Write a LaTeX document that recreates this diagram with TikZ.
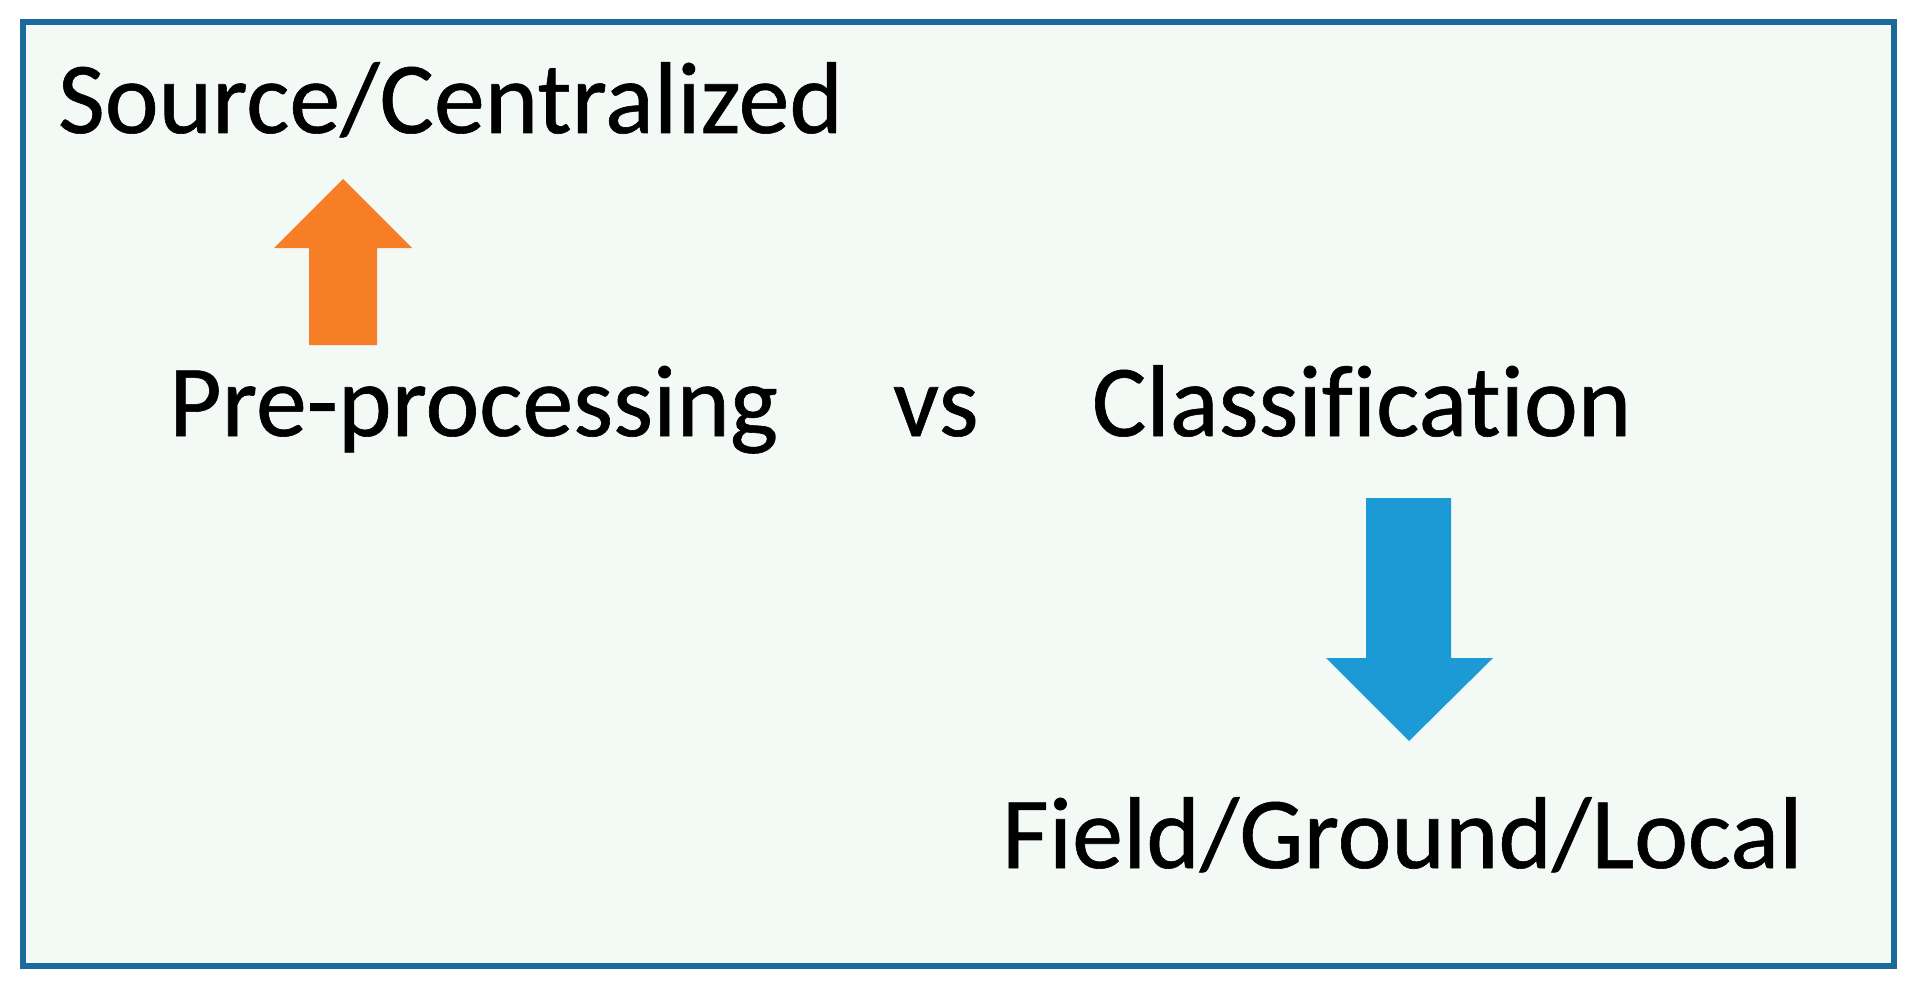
\documentclass[tikz,border=0pt]{standalone}
\usepackage{fontspec}
\setmainfont{Carlito}[Ligatures={NoCommon,NoContextual}, FakeBold=0.6]
\definecolor{framecol}{RGB}{28,106,156}
\definecolor{panelfill}{RGB}{243,250,245}
\definecolor{uparrow}{RGB}{246,126,38}
\definecolor{downarrow}{RGB}{27,154,214}
\tikzset{
  lbl/.style={anchor=base west, inner sep=0pt, outer sep=0pt, text=black, font=\fontsize{51}{60}\selectfont},
  frame/.style={draw=framecol, line width=3.2pt, fill=panelfill}
}
\begin{document}
\begin{tikzpicture}[x=0.5pt,y=-0.5pt]
\useasboundingbox (0,0) rectangle (1920,984);
\fill[white] (0,0) rectangle (1920,984);
\draw[frame] (23,22) rectangle (1894,966);
% texts
\node[lbl] (src) at (58,133) {Source/Centralized};
\node[lbl] (pre) at (169,436) {Pre-processing};
\node[lbl] (vs) at (893,436) {vs};
\node[lbl] (cls) at (1092,436) {Classification};
\node[lbl] (fld) at (1002,868) {Field/Ground/Local};
% orange up arrow
\fill[uparrow] (309,345) -- (309,248) -- (274,248) -- (343,179) -- (412,248) -- (377,248) -- (377,345) -- cycle;
% blue down arrow
\fill[downarrow] (1366,498) -- (1451,498) -- (1451,658) -- (1493,658) -- (1409,741) -- (1326,658) -- (1366,658) -- cycle;
\end{tikzpicture}
\end{document}
